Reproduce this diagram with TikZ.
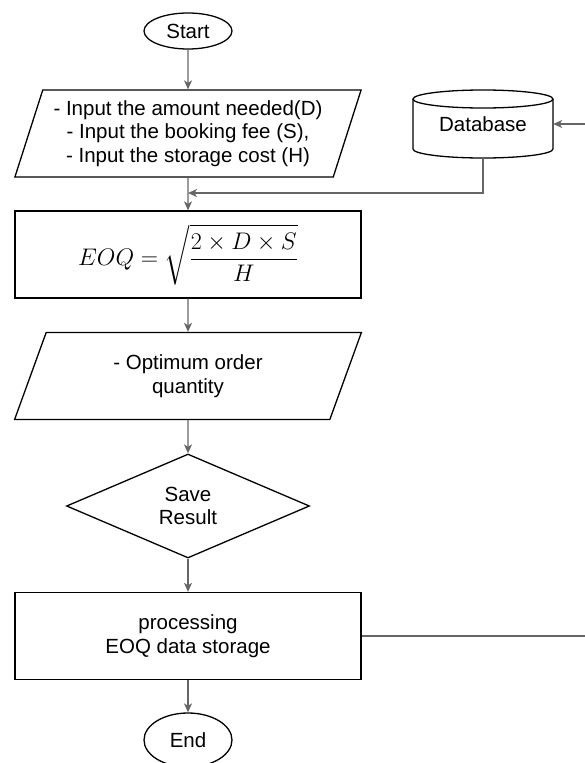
\RequirePackage{fix-cm}
\documentclass[tikz,border=0pt]{standalone}
\usepackage[no-math]{fontspec}
\setmainfont{Liberation Sans}
\usepackage{amsmath}
\usetikzlibrary{shapes.geometric, positioning, arrows.meta, calc}
\definecolor{flowgray}{HTML}{666666}

\begin{document}
\begin{tikzpicture}[x=1pt,y=-1pt,
                    every node/.style={font=\fontsize{20.5}{23.5}\selectfont,align=center,inner sep=0pt},
                    term node/.style={ellipse,draw,line width=1.3pt,minimum width=88pt,minimum height=36pt},
                    io node/.style={trapezium,draw,line width=1.3pt,trapezium left angle=68.7,
                                    trapezium right angle=111.3,trapezium stretches=true,
                                    minimum width=347pt,minimum height=87pt},
                    proc node/.style={rectangle,draw,line width=1.3pt,minimum width=346pt,minimum height=87pt},
                    dec node/.style={diamond,draw,line width=1.3pt,aspect=2.3,minimum width=243pt,minimum height=104pt},
                    flow/.style={draw=flowgray,line width=1.3pt,-{Stealth[length=9pt,width=8pt,inset=2.5pt]}},
                    link/.style={draw=flowgray,line width=1.3pt}]

  \useasboundingbox (0,0) rectangle (585,763);

  % main column
  \node[term node] (start) at (188,31) {Start};
  \node[io node] (in1) at (188,133.5) {- Input the amount needed(D)\\- Input the booking fee (S),\\- Input the storage cost (H)};
  \node[proc node] (eoq) at (188,254.5) {\fontsize{24}{28}\selectfont $\displaystyle EOQ = \sqrt{\frac{2\times D\times S}{H}}$};
  \node[io node] (out) at (188,376) {- Optimum order\\quantity};
  \node[dec node] (save) at (188,506) {Save\\Result};
  \node[proc node] (proc) at (188,636) {processing\\EOQ data storage};
  \node[term node,minimum height=54pt] (end) at (188,740) {End};

  % database
  \node (db) at (483,124) [minimum width=140pt,minimum height=68pt] {Database};
  \draw[line width=1.3pt] (483,99) ellipse [x radius=70pt, y radius=9pt];
  \draw[line width=1.3pt] (413,99) -- (413,149)
        arc[start angle=180, end angle=360, x radius=70pt, y radius=9pt] -- (553,99);

  \coordinate (join) at ($(in1.south)!0.47!(eoq.north)$);
  \coordinate (dbin) at (585,124);
  \coordinate (procout) at (585,636);

  \draw[flow] (start) -- (in1);
  \draw[flow] (in1) -- (eoq);
  \draw[flow] (eoq) -- (out);
  \draw[flow] (out) -- (save);
  \draw[flow] (save) -- (proc);
  \draw[flow] (proc) -- (end);
  \draw[flow] (db.south) |- (join);
  \draw[flow] (dbin) -- (db.east);
  \draw[link] (proc.east) -- (procout);

\end{tikzpicture}
\end{document}
